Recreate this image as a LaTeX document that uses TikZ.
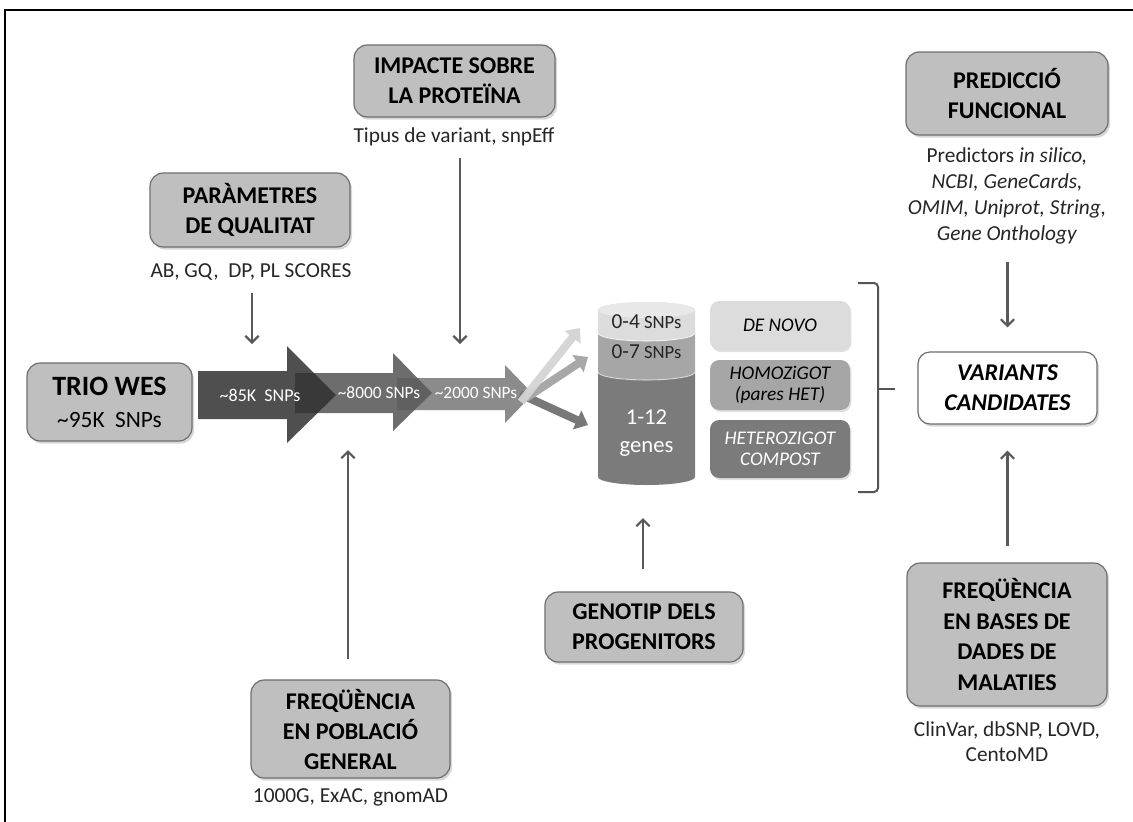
\documentclass[tikz,border=0pt]{standalone}
\usepackage{fontspec}
\setmainfont{Carlito}
\usetikzlibrary{arrows.meta,shadows}
\definecolor{boxfill}{HTML}{BFBFBF}
\definecolor{boxline}{HTML}{6E6E6E}
\definecolor{conncol}{HTML}{595959}
\definecolor{arrA}{HTML}{4F4F4F}
\definecolor{arrB}{HTML}{303030}
\definecolor{arrC}{HTML}{5B5B5B}
\definecolor{cylFace}{HTML}{E8E8E8}
\definecolor{cylTop}{HTML}{DCDCDC}
\definecolor{cylMid}{HTML}{A6A6A6}
\definecolor{cylBot}{HTML}{7B7B7B}
\definecolor{brLight}{HTML}{D4D4D4}
\definecolor{brMid}{HTML}{A8A8A8}
\definecolor{brDark}{HTML}{787878}
\definecolor{bracketcol}{HTML}{555555}
\newcommand{\hdfont}{\fontsize{18}{22.5}\selectfont\bfseries}
\newcommand{\subfont}{\fontsize{16}{19.5}\selectfont}
\begin{document}
\begin{tikzpicture}[x=0.75pt,y=-0.75pt,
  graybox/.style={draw=boxline, line width=0.9pt, fill=boxfill, rounded corners=10pt,
    align=center, inner sep=0pt, font=\hdfont,
    drop shadow={shadow xshift=1.5pt, shadow yshift=-2pt, opacity=0.3}},
  smallbox/.style={draw=none, rounded corners=7pt, align=center, inner sep=0pt,
    minimum width=105pt, font=\fontsize{14.5}{16}\selectfont\itshape,
    drop shadow={shadow xshift=1pt, shadow yshift=-1.5pt, opacity=0.25}},
  sublbl/.style={align=center, inner sep=0pt, font=\subfont, text=black!85},
  arrtxt/.style={inner sep=0pt, text=white, font=\fontsize{13}{14}\selectfont},
  cyltxt/.style={inner sep=0pt, font=\fontsize{14}{16}\selectfont, text=black!85},
  conn/.style={draw=conncol, line width=1.6pt, -{Straight Barb[length=5pt,width=10pt]}},
  brarrow/.style={line width=6pt, -{Triangle[length=9pt,width=15pt]}},
]
\useasboundingbox (0,0) rectangle (1133,822);
\fill[white] (0,0) rectangle (1133,822);
% frame
\draw[line width=1.5pt] (1133,10) -- (5,10) -- (5,822);

% boxes
\node[graybox, minimum width=123.75pt, minimum height=58.5pt,
  font=\fontsize{21}{24}\selectfont\bfseries] (trio) at (109.5,402)
  {TRIO WES\\[0pt]{\fontsize{17.5}{20}\selectfont\mdseries \textasciitilde95K~ SNPs}};
\node[graybox, minimum width=150pt, minimum height=55.5pt] (param) at (250,210) {PARÀMETRES\\DE QUALITAT};
\node[sublbl] (parsub) at (251,272) {AB, GQ,~ DP, PL SCORES};
\node[graybox, minimum width=150.75pt, minimum height=54pt] (impacte) at (454.5,81) {IMPACTE SOBRE\\LA PROTEÏNA};
\node[sublbl] (impsub) at (454,137) {Tipus de variant, snpEff};
\node[graybox, minimum width=151.5pt, minimum height=62.25pt] (predic) at (1007,93.5) {PREDICCIÓ\\FUNCIONAL};
\node[sublbl] (predsub) at (1007,196) {Predictors \textit{in silico,}\\\textit{NCBI, GeneCards,}\\\textit{OMIM, Uniprot, String,}\\\textit{Gene Onthology}};
\node[graybox, minimum width=150pt, minimum height=107.25pt, font=\fontsize{18}{23}\selectfont\bfseries] (freqbd) at (1007,634.5) {FREQÜÈNCIA\\EN BASES DE\\DADES DE\\MALATIES};
\node[sublbl, font=\fontsize{16}{18.75}\selectfont] (bdsub) at (1007,742) {ClinVar, dbSNP, LOVD,\\CentoMD};
\node[graybox, minimum width=148.5pt, minimum height=52.5pt] (genotip) at (644,627) {GENOTIP DELS\\PROGENITORS};
\node[graybox, minimum width=149.25pt, minimum height=73.5pt] (freqpob) at (350.5,729) {FREQÜÈNCIA\\EN POBLACIÓ\\GENERAL};
\node[sublbl] (pobsub) at (350.5,797) {1000G, ExAC, gnomAD};
\node[draw=boxline, line width=0.9pt, fill=white, rounded corners=9pt, minimum width=134.25pt,
  minimum height=54pt, inner sep=0pt, align=center, font=\fontsize{18}{22.5}\selectfont\bfseries\itshape,
  drop shadow={shadow xshift=1.5pt, shadow yshift=-2pt, opacity=0.3}] (variants) at (1007.5,388) {VARIANTS\\CANDIDATES};

% big arrows
\fill[arrA] (198,371) -- (287,371) -- (287,346) -- (336,395) -- (287,443) -- (287,419) -- (198,419) -- cycle;
\fill[arrB, opacity=0.7] (295,373) -- (393,373) -- (393,353) -- (432,393) -- (393,431) -- (393,413) -- (295,413) -- cycle;
\fill[arrC, opacity=0.7] (397,378) -- (505,378) -- (505,365) -- (533,394) -- (505,423) -- (505,410) -- (397,410) -- cycle;
\node[arrtxt, font=\fontsize{13.5}{14}\selectfont] (t85) at (260,395) {\textasciitilde85K~ SNPs};
\node[arrtxt] (t8000) at (379,393) {\textasciitilde8000 SNPs};
\node[arrtxt] (t2000) at (476,393) {\textasciitilde2000 SNPs};

% branch arrows
\draw[brarrow, brDark] (520,394) -- (588,425);
\draw[brarrow, brMid] (526,398) -- (588,357);
\draw[brarrow, brLight, opacity=0.95] (521,402) -- (580,328);

% cylinder
\fill[cylBot] (598,372) arc[start angle=180, end angle=360, x radius=36.375pt, y radius=6pt]
  -- (695,477) arc[start angle=0, end angle=-180, x radius=36.375pt, y radius=6pt] -- cycle;
\fill[cylMid] (598,333) arc[start angle=180, end angle=360, x radius=36.375pt, y radius=6pt]
  -- (695,372) arc[start angle=0, end angle=-180, x radius=36.375pt, y radius=6pt] -- cycle;
\fill[cylTop] (598,310) arc[start angle=180, end angle=0, x radius=36.375pt, y radius=6pt]
  -- (695,333) arc[start angle=0, end angle=-180, x radius=36.375pt, y radius=6pt] -- cycle;
\fill[cylFace] (646.5,310) ellipse[x radius=36.375pt, y radius=6pt];
\draw[white, opacity=0.6, line width=0.8pt] (598,333) arc[start angle=180, end angle=360, x radius=36.375pt, y radius=6pt];
\draw[white, opacity=0.5, line width=0.8pt] (598,372) arc[start angle=180, end angle=360, x radius=36.375pt, y radius=6pt];
\node[cyltxt] (c4) at (646.5,322) {{\fontsize{16}{16}\selectfont 0-4} SNPs};
\node[cyltxt] (c7) at (646.5,352) {{\fontsize{16}{16}\selectfont 0-7} SNPs};
\node[inner sep=0pt, text=white, align=center, font=\fontsize{17}{21}\selectfont] (cgen) at (646.5,433) {1-12\\genes};

% pattern boxes
\node[smallbox, fill=cylTop, minimum height=36.75pt] (denovo) at (780,325.5) {DE NOVO};
\node[smallbox, fill=cylMid, minimum height=37.5pt] (homo) at (780,385) {HOMOZiGOT\\(pares HET)};
\node[smallbox, fill=cylBot, text=white, minimum height=43.5pt] (hetero) at (780,449) {HETEROZIGOT\\COMPOST};

% bracket
\draw[bracketcol, line width=1.5pt, rounded corners=3pt] (858,283) -- (878,283) -- (878,492) -- (858,492);
\draw[bracketcol, line width=1.5pt] (878,389) -- (895,389);

% connectors
\coordinate (parend) at (252,344);
\coordinate (impend) at (460,344);
\coordinate (pobend) at (348,450);
\coordinate (genend) at (643,518);
\draw[conn, shorten <=9pt] (parsub.south -| parend) -- (parend);
\draw[conn, shorten <=9pt] (impsub.south -| impend) -- (impend);
\draw[conn, shorten <=15pt] (freqpob.north -| pobend) -- (pobend);
\draw[conn, shorten <=16.5pt] (genotip.north -| genend) -- (genend);
\draw[conn, shorten <=13pt, shorten >=18pt] (predsub.south -| variants.north) -- (variants.north);
\draw[conn, shorten <=12pt, shorten >=19.5pt] (freqbd.north -| variants.south) -- (variants.south);
\end{tikzpicture}
\end{document}
